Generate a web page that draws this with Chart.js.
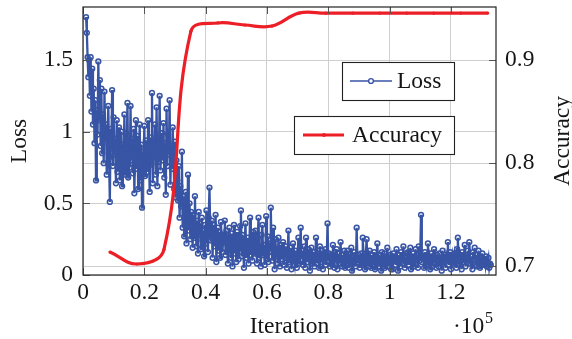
<!DOCTYPE html>
<html>
<head>
<meta charset="utf-8">
<script src="https://cdn.jsdelivr.net/npm/chart.js@4"></script>
<style>
    html, body { margin: 0; padding: 0; background: #fff; }
    #wrap { width: 572px; height: 339px; }
</style>
</head>
<body>
<div id="wrap"><canvas id="chart"></canvas></div>
<script>
// loss is logged every 250 iterations, starting at iteration 1000
const lossStart = 1000;
const lossStep = 250;
const lossValues = [
    1.80, 1.69, 1.52, 1.38, 1.50, 1.25, 1.52, 1.14, 1.44, 1.05, 1.30, 0.92, 1.22, 0.66, 1.15, 0.98, 1.49, 1.08, 1.36, 0.90,
    1.30, 0.85, 1.12, 0.78, 1.28, 0.96, 1.05, 0.70, 0.99, 1.18, 0.82, 0.51, 1.02, 0.88, 1.29, 0.76, 1.10, 0.84, 0.95, 0.64,
    1.08, 0.72, 0.93, 1.03, 0.66, 0.86, 1.00, 0.62, 0.91, 0.79, 1.12, 0.70, 0.99, 0.84, 1.20, 0.68, 0.88, 0.75, 1.18, 0.80,
    0.95, 0.71, 1.02, 0.57, 0.88, 1.08, 0.74, 0.97, 0.60, 0.83, 1.05, 0.66, 0.91, 0.47, 0.86, 0.78, 1.04, 0.69, 0.94, 0.81,
    0.72, 1.08, 0.85, 0.58, 0.96, 0.77, 1.27, 0.64, 0.90, 0.83, 1.05, 0.70, 1.17, 0.62, 0.95, 0.79, 1.25, 0.73, 0.88, 0.99,
    0.80, 1.06, 0.68, 0.92, 0.56, 1.16, 0.76, 0.98, 0.84, 1.22, 0.63, 0.90, 0.74, 1.03, 0.86, 0.60, 0.93, 0.54, 0.80, 0.66,
    0.52, 0.76, 0.40, 0.62, 0.48, 0.86, 0.33, 0.55, 0.27, 0.46, 0.58, 0.22, 0.40, 0.70, 0.31, 0.50, 0.25, 0.44, 0.36, 0.19,
    0.42, 0.26, 0.55, 0.32, 0.20, 0.38, 0.15, 0.44, 0.28, 0.36, 0.18, 0.40, 0.24, 0.31, 0.13, 0.35, 0.22, 0.45, 0.27, 0.16,
    0.40, 0.61, 0.30, 0.24, 0.38, 0.12, 0.29, 0.35, 0.20, 0.42, 0.09, 0.26, 0.33, 0.17, 0.30, 0.12, 0.37, 0.22, 0.16, 0.28,
    0.27, 0.38, 0.14, 0.31, 0.22, 0.08, 0.25, 0.33, 0.18, 0.12, 0.29, 0.06, 0.21, 0.35, 0.15, 0.24, 0.09, 0.30, 0.19, 0.11,
    0.20, 0.34, 0.45, 0.13, 0.28, 0.18, 0.05, 0.23, 0.36, 0.12, 0.17, 0.26, 0.08, 0.21, 0.40, 0.14, 0.24, 0.10, 0.30, 0.16,
    0.15, 0.31, 0.22, 0.08, 0.26, 0.40, 0.12, 0.19, 0.06, 0.28, 0.35, 0.14, 0.21, 0.07, 0.17, 0.41, 0.11, 0.27, 0.09, 0.20,
    0.22, 0.47, 0.16, 0.10, 0.33, 0.19, 0.04, 0.25, 0.13, 0.18, 0.08, 0.26, 0.14, 0.06, 0.21, 0.11, 0.15, 0.23, 0.07, 0.17,
    0.12, 0.20, 0.05, 0.16, 0.31, 0.09, 0.14, 0.19, 0.04, 0.13, 0.22, 0.10, 0.07, 0.17, 0.12, 0.05, 0.15, 0.26, 0.08, 0.14,
    0.33, 0.11, 0.17, 0.07, 0.13, 0.20, 0.05, 0.26, 0.14, 0.09, 0.18, 0.11, 0.03, 0.15, 0.19, 0.08, 0.12, 0.16, 0.06, 0.13,
    0.26, 0.08, 0.15, 0.11, 0.05, 0.20, 0.13, 0.09, 0.17, 0.04, 0.14, 0.10, 0.18, 0.07, 0.12, 0.36, 0.10, 0.15, 0.06, 0.13,
    0.14, 0.07, 0.21, 0.11, 0.05, 0.16, 0.12, 0.18, 0.04, 0.10, 0.15, 0.08, 0.23, 0.12, 0.06, 0.14, 0.09, 0.17, 0.05, 0.11,
    0.13, 0.17, 0.08, 0.05, 0.15, 0.11, 0.19, 0.03, 0.12, 0.08, 0.16, 0.10, 0.06, 0.33, 0.12, 0.09, 0.14, 0.05, 0.11, 0.15,
    0.07, 0.26, 0.13, 0.09, 0.04, 0.15, 0.25, 0.10, 0.13, 0.06, 0.17, 0.11, 0.05, 0.14, 0.09, 0.12, 0.16, 0.04, 0.10, 0.13,
    0.22, 0.08, 0.14, 0.06, 0.11, 0.03, 0.16, 0.12, 0.09, 0.15, 0.05, 0.13, 0.08, 0.19, 0.10, 0.06, 0.12, 0.14, 0.04, 0.11,
    0.04, 0.15, 0.10, 0.13, 0.07, 0.18, 0.09, 0.03, 0.14, 0.11, 0.06, 0.16, 0.12, 0.08, 0.20, 0.10, 0.05, 0.13, 0.09, 0.15,
    0.16, 0.07, 0.11, 0.19, 0.04, 0.13, 0.09, 0.15, 0.06, 0.12, 0.18, 0.08, 0.14, 0.05, 0.20, 0.10, 0.16, 0.42, 0.09, 0.12,
    0.13, 0.05, 0.16, 0.10, 0.07, 0.14, 0.22, 0.09, 0.12, 0.04, 0.15, 0.11, 0.06, 0.13, 0.18, 0.08, 0.12, 0.05, 0.14, 0.10,
    0.06, 0.15, 0.11, 0.08, 0.03, 0.17, 0.12, 0.09, 0.14, 0.05, 0.13, 0.10, 0.23, 0.07, 0.12, 0.16, 0.04, 0.11, 0.14, 0.08,
    0.09, 0.15, 0.12, 0.05, 0.18, 0.26, 0.10, 0.07, 0.14, 0.11, 0.04, 0.16, 0.09, 0.13, 0.21, 0.06, 0.12, 0.10, 0.17, 0.08,
    0.23, 0.10, 0.08, 0.13, 0.04, 0.16, 0.11, 0.19, 0.07, 0.14, 0.06, 0.12, 0.17, 0.09, 0.05, 0.13, 0.10, 0.15, 0.07, 0.11,
    0.11, 0.07, 0.13, 0.06, 0.09, 0.12, 0.05, 0.08, 0.07
];

const accIterations = [ 8800, 17600, 26400, 35200, 44000, 52800, 61600, 70400, 79200, 88000, 96800, 105600, 114400, 123200, 132000 ];
const accValues = [ 0.7136, 0.702, 0.716, 0.928, 0.936, 0.934, 0.933, 0.9456, 0.9455, 0.9455, 0.9456, 0.9455, 0.9455, 0.9456, 0.9456 ];

const xTickValues = [ 0, 20000, 40000, 60000, 80000, 100000, 120000 ];
const xTickLabels = [ '0', '0.2', '0.4', '0.6', '0.8', '1', '1.2' ];
const lossTickValues = [ 0, 0.5, 1, 1.5 ];
const lossTickLabels = [ '0', '0.5', '1', '1.5' ];
const accTickValues = [ 0.7, 0.8, 0.9 ];
const accTickLabels = [ '0.7', '0.8', '0.9' ];

const BLUE = 'rgb(56, 84, 164)';
const RED = 'rgb(236, 30, 38)';
const INK = '#151515';
const SERIF = '"Liberation Serif", "DejaVu Serif", serif';
const FS = 23.5;

const lossPoints = lossValues.map( ( v, i ) => ( { x: lossStart + i * lossStep, y: v } ) );
const accPoints = accValues.map( ( v, i ) => ( { x: accIterations[ i ], y: v } ) );

function fixedTicks( values )
{
    return function ( scale ) {
        scale.ticks = values.map( v => ( { value: v } ) );
    };
}

function labelFrom( values, labels )
{
    return function ( v ) {
        const i = values.findIndex( t => Math.abs( t - v ) < 1e-9 );
        return i < 0 ? '' : labels[ i ];
    };
}

// frame, inner tick marks, legend boxes, exponent and right title
const extras = {
    id: 'extras',
    afterDatasetsDraw( chart )
    {
        const { ctx, chartArea: a, scales } = chart;
        ctx.save();

        // tick marks pointing inside the frame
        ctx.strokeStyle = '#555';
        ctx.lineWidth = 1;
        const tl = 7;
        ctx.beginPath();
        xTickValues.forEach( v => {
            const px = Math.round( scales.x.getPixelForValue( v ) ) + 0.5;
            ctx.moveTo( px, a.bottom ); ctx.lineTo( px, a.bottom - tl );
            ctx.moveTo( px, a.top ); ctx.lineTo( px, a.top + tl );
        } );
        lossTickValues.forEach( v => {
            const py = Math.round( scales.y.getPixelForValue( v ) ) + 0.5;
            ctx.moveTo( a.left, py ); ctx.lineTo( a.left + tl, py );
        } );
        accTickValues.forEach( v => {
            const py = Math.round( scales.y1.getPixelForValue( v ) ) + 0.5;
            ctx.moveTo( a.right, py ); ctx.lineTo( a.right - tl, py );
        } );
        ctx.stroke();

        // frame
        ctx.strokeStyle = '#222';
        ctx.lineWidth = 1.2;
        ctx.strokeRect( a.left, a.top, a.right - a.left, a.bottom - a.top );

        // legend boxes
        const ds = chart.data.datasets;
        ctx.font = FS + 'px ' + SERIF;
        ctx.textBaseline = 'middle';
        ctx.textAlign = 'left';

        // Loss
        let bx = a.right - 154, by = a.top + 55, bw = 112, bh = 38;
        ctx.fillStyle = '#fff';
        ctx.fillRect( bx, by, bw, bh );
        ctx.strokeStyle = '#222';
        ctx.lineWidth = 1.1;
        ctx.strokeRect( bx + 0.5, by + 0.5, bw, bh );
        let cy = by + bh / 2;
        ctx.strokeStyle = BLUE;
        ctx.lineWidth = 1.6;
        ctx.beginPath(); ctx.moveTo( bx + 8, cy ); ctx.lineTo( bx + 50, cy ); ctx.stroke();
        ctx.fillStyle = '#fff';
        ctx.lineWidth = 1.4;
        ctx.beginPath(); ctx.arc( bx + 29, cy, 2.4, 0, Math.PI * 2 ); ctx.fill(); ctx.stroke();
        ctx.fillStyle = INK;
        ctx.fillText( ds[ 0 ].label, bx + 55, cy + 1 );

        // Accuracy
        bx = a.right - 202; by = a.top + 109; bw = 160; bh = 38;
        ctx.fillStyle = '#fff';
        ctx.fillRect( bx, by, bw, bh );
        ctx.strokeStyle = '#222';
        ctx.lineWidth = 1.1;
        ctx.strokeRect( bx + 0.5, by + 0.5, bw, bh );
        cy = by + bh / 2;
        ctx.strokeStyle = RED;
        ctx.lineWidth = 3.2;
        ctx.beginPath(); ctx.moveTo( bx + 9, cy ); ctx.lineTo( bx + 50, cy ); ctx.stroke();
        ctx.fillStyle = RED;
        ctx.beginPath(); ctx.arc( bx + 30, cy, 2, 0, Math.PI * 2 ); ctx.fill();
        ctx.fillStyle = INK;
        ctx.fillText( ds[ 1 ].label, bx + 58, cy + 1 );

        // x exponent
        ctx.fillStyle = INK;
        ctx.textAlign = 'left';
        ctx.textBaseline = 'alphabetic';
        ctx.font = FS + 'px ' + SERIF;
        ctx.fillText( '\u00b710', a.right - 43, a.bottom + 58 );
        ctx.font = '16px ' + SERIF;
        ctx.fillText( '5', a.right - 11, a.bottom + 48 );

        // right axis title, reading bottom to top
        ctx.font = FS + 'px ' + SERIF;
        ctx.textAlign = 'center';
        ctx.textBaseline = 'middle';
        ctx.translate( a.right + 67, ( a.top + a.bottom ) / 2 );
        ctx.rotate( -Math.PI / 2 );
        ctx.fillText( 'Accuracy', 0, 0 );

        ctx.restore();
    }
};

document.addEventListener( 'DOMContentLoaded', function ()
{
    const tickFont = { family: SERIF, size: FS };
    new Chart( document.getElementById( 'chart' ), {
        type: 'line',
        data: {
            datasets: [ {
                label: 'Loss',
                data: lossPoints,
                yAxisID: 'y',
                borderColor: BLUE,
                borderWidth: 2.3,
                pointRadius: 2.4,
                pointBorderWidth: 1.5,
                pointBorderColor: BLUE,
                pointBackgroundColor: 'rgba(255, 255, 255, 0)',
                tension: 0,
                order: 1
            }, {
                label: 'Accuracy',
                data: accPoints,
                yAxisID: 'y1',
                borderColor: RED,
                borderWidth: 3.2,
                pointRadius: 1.6,
                pointBorderWidth: 0,
                pointBackgroundColor: RED,
                tension: 0.4,
                order: 0
            } ]
        },
        options: {
            responsive: true,
            maintainAspectRatio: false,
            animation: false,
            layout: { padding: { top: 7, left: 0, right: 0, bottom: 0 } },
            plugins: {
                legend: { display: false },
                tooltip: { enabled: false }
            },
            scales: {
                x: {
                    type: 'linear',
                    min: 0,
                    max: 134700,
                    afterBuildTicks: fixedTicks( xTickValues ),
                    afterFit: s => { s.height = 64; s.paddingLeft = 0; s.paddingRight = 0; },
                    grid: { color: '#cfcfcf', lineWidth: 1, drawTicks: false },
                    border: { display: false },
                    ticks: { font: tickFont, color: INK, padding: 4, maxRotation: 0,
                        callback: labelFrom( xTickValues, xTickLabels ) },
                    title: { display: true, text: 'Iteration', color: INK,
                        font: { family: SERIF, size: FS, lineHeight: 1 }, padding: 0 }
                },
                y: {
                    position: 'left',
                    min: 0,
                    max: 1.87,
                    afterBuildTicks: fixedTicks( lossTickValues ),
                    afterFit: s => { s.width = 83; s.paddingTop = 0; s.paddingBottom = 0; },
                    grid: { color: '#cfcfcf', lineWidth: 1, drawTicks: false },
                    border: { display: false },
                    ticks: { font: tickFont, color: INK, padding: 10,
                        callback: labelFrom( lossTickValues, lossTickLabels ) },
                    title: { display: true, text: 'Loss', color: INK,
                        font: { family: SERIF, size: FS, lineHeight: 1 }, padding: { top: 8, bottom: 0 } }
                },
                y1: {
                    position: 'right',
                    min: 0.6913,
                    max: 0.9515,
                    afterBuildTicks: fixedTicks( accTickValues ),
                    afterFit: s => { s.width = 76; s.paddingTop = 0; s.paddingBottom = 0; },
                    grid: { color: '#cfcfcf', lineWidth: 1, drawTicks: false },
                    border: { display: false },
                    ticks: { font: tickFont, color: INK, padding: 9,
                        callback: labelFrom( accTickValues, accTickLabels ) }
                }
            }
        },
        plugins: [ extras ]
    } );
} );
</script>
</body>
</html>
